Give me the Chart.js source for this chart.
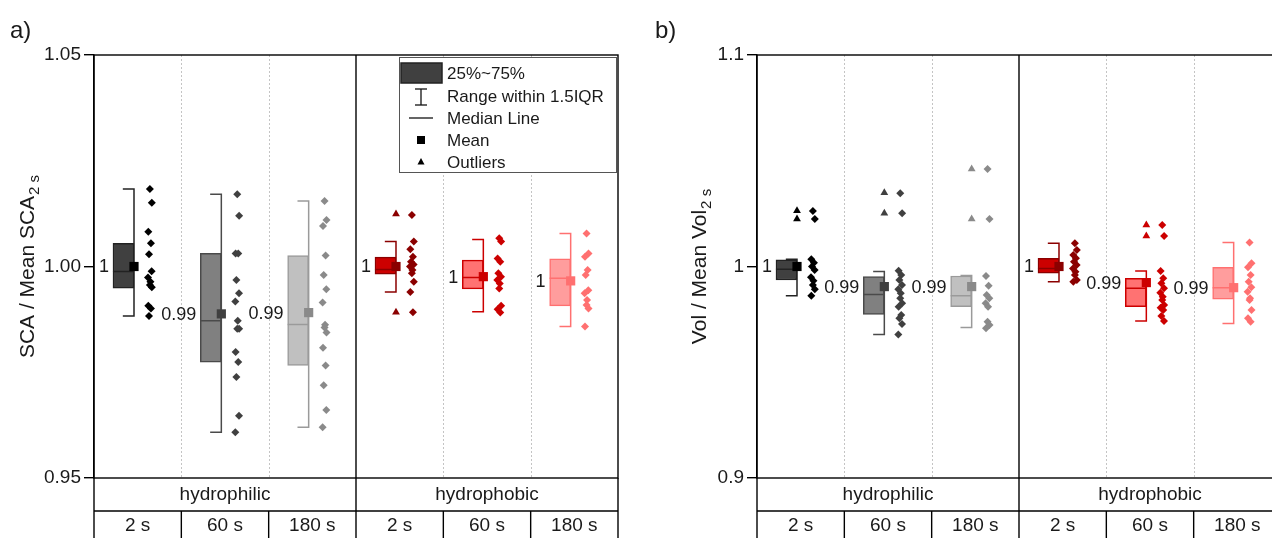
<!DOCTYPE html>
<html>
<head>
<meta charset="utf-8">
<script src="https://cdn.jsdelivr.net/npm/chart.js@4.4.0/dist/chart.umd.min.js"></script>
<style>
  html, body { margin: 0; padding: 0; background: #fff; overflow: hidden; width: 1272px; height: 538px; }
  #wrapA { position: absolute; left: 0; top: 0; }
  #wrapB { position: absolute; left: 640px; top: 0; }
</style>
</head>
<body>
<div id="wrapA"><canvas id="chartA" width="640" height="538"></canvas></div>
<div id="wrapB"><canvas id="chartB" width="660" height="538"></canvas></div>
<script>
// categories
const groups = ["hydrophilic", "hydrophobic"];
const times = ["2 s", "60 s", "180 s"];

// a) SCA / Mean SCA 2 s
const scaQ1 = [0.9949, 0.9774, 0.9766, 0.9982, 0.9947, 0.9907];
const scaQ3 = [1.0055, 1.0031, 1.0026, 1.0022, 1.0015, 1.0018];
const scaMedian = [0.9988, 0.9872, 0.9863, 0.9993, 0.9974, 0.9972];
const scaMean = [1.0000, 0.9888, 0.9891, 1.0000, 0.9976, 0.9966];
const scaLow = [0.9883, 0.9608, 0.9620, 0.9940, 0.9893, 0.9858];
const scaHigh = [1.0183, 1.0171, 1.0155, 1.0059, 1.0064, 1.0078];
const scaMeanLabels = ["1", "0.99", "0.99", "1", "1", "1"];
const scaPoints = [
  [1.0183, 1.0151, 1.0082, 1.0055, 1.0029, 0.9989, 0.9974, 0.9964, 0.9956, 0.9951, 0.9907, 0.9901, 0.9883],
  [1.0171, 1.0120, 1.0031, 1.0031, 0.9968, 0.9937, 0.9917, 0.9872, 0.9853, 0.9853, 0.9798, 0.9774, 0.9739, 0.9647, 0.9608],
  [1.0155, 1.0110, 1.0096, 1.0026, 0.9980, 0.9946, 0.9915, 0.9862, 0.9856, 0.9844, 0.9808, 0.9766, 0.9719, 0.9661, 0.9620],
  [1.0122, 1.0059, 1.0041, 1.0023, 1.0011, 1.0005, 1.0000, 0.9992, 0.9984, 0.9964, 0.9940, 0.9892],
  [1.0067, 1.0059, 1.0019, 1.0011, 0.9984, 0.9976, 0.9968, 0.9960, 0.9948, 0.9907, 0.9899, 0.9891],
  [1.0078, 1.0031, 1.0023, 0.9992, 0.9980, 0.9944, 0.9937, 0.9921, 0.9909, 0.9901, 0.9858]
];
const scaOutliers = [[], [], [], [1.0124, 0.9892], [], []];

// b) Vol / Mean Vol 2 s
const volQ1 = [0.9936, 0.9774, 0.9810, 0.9968, 0.9810, 0.9845];
const volQ3 = [1.0031, 0.9952, 0.9955, 1.0039, 0.9944, 0.9996];
const volMedian = [0.9987, 0.9868, 0.9862, 0.9991, 0.9897, 0.9900];
const volMean = [1.0000, 0.9905, 0.9905, 1.0000, 0.9924, 0.9900];
const volLow = [0.9862, 0.9679, 0.9711, 0.9928, 0.9742, 0.9731];
const volHigh = [1.0034, 0.9976, 0.9957, 1.0110, 0.9979, 1.0114];
const volMeanLabels = ["1", "0.99", "0.99", "1", "0.99", "0.99"];
const volPoints = [
  [1.0262, 1.0225, 1.0034, 1.0018, 1.0000, 0.9983, 0.9949, 0.9933, 0.9913, 0.9892, 0.9862],
  [1.0346, 1.0252, 0.9980, 0.9960, 0.9936, 0.9913, 0.9892, 0.9873, 0.9850, 0.9826, 0.9810, 0.9771, 0.9755, 0.9728, 0.9679],
  [1.0461, 1.0225, 0.9955, 0.9909, 0.9865, 0.9850, 0.9826, 0.9810, 0.9739, 0.9723, 0.9708],
  [1.0110, 1.0078, 1.0054, 1.0039, 1.0023, 1.0007, 0.9991, 0.9975, 0.9960, 0.9936, 0.9928],
  [1.0196, 1.0144, 0.9979, 0.9944, 0.9921, 0.9897, 0.9876, 0.9857, 0.9842, 0.9818, 0.9805, 0.9794, 0.9766, 0.9742],
  [1.0114, 1.0015, 0.9996, 0.9960, 0.9928, 0.9902, 0.9881, 0.9850, 0.9842, 0.9794, 0.9755, 0.9739]
];
const volOutliers = [[1.0264, 1.0225], [1.0349, 1.0252], [1.0461, 1.0225], [], [1.0196, 1.0144], []];

// styles
const FONT = "'Liberation Sans', Arial, sans-serif";
const boxFill = ["#404040", "#808080", "#c0c0c0", "#cc0000", "#ff7272", "#ff9d9d"];
const boxLine = ["#222222", "#4a4a4a", "#9a9a9a", "#8b0000", "#cc0000", "#ff7070"];
const dotColor = ["#000000", "#404040", "#8a8a8a", "#8b0000", "#cc0000", "#ff7070"];
const jitter = [0, 0.022, -0.018, 0.012, -0.01, 0.02, -0.022, 0.006];

// offsets inside a category (x units, 1 unit = one category column)
const BOX_L = -0.283, BOX_R = -0.042, CAP_L = -0.17, DOT_X = 0.14;

Chart.defaults.font.family = FONT;

function makeDatasets(q1, q3, med, mean, lo, hi, pts, outl) {
  const ds = [];
  ds.push({
    type: "bar",
    data: q1.map((v, i) => ({ x: i + 0.5 + (BOX_L + BOX_R) / 2, y: [v, q3[i]] })),
    backgroundColor: boxFill,
    borderColor: boxLine,
    borderWidth: 1.5,
    borderSkipped: false,
    barThickness: 21,
    order: 5
  });
  q1.forEach((v, i) => {
    const c = i + 0.5;
    ds.push({
      type: "line",
      data: [
        { x: c + CAP_L, y: hi[i] }, { x: c + BOX_R, y: hi[i] },
        { x: c + BOX_R, y: lo[i] }, { x: c + CAP_L, y: lo[i] },
        { x: c, y: null },
        { x: c + BOX_L, y: med[i] }, { x: c + BOX_R, y: med[i] }
      ],
      borderColor: boxLine[i],
      borderWidth: 1.5,
      pointRadius: 0,
      spanGaps: false,
      fill: false,
      order: 4
    });
  });
  ds.push({
    type: "line",
    showLine: false,
    data: pts.flatMap((arr, i) => arr.map((v, k) => ({ x: i + 0.5 + DOT_X + jitter[k % jitter.length], y: v }))),
    pointStyle: "rectRot",
    pointRadius: 4,
    pointBorderWidth: 0,
    pointBackgroundColor: (c) => dotColor[Math.floor(c.raw ? c.raw.x : 0)],
    order: 1
  });
  ds.push({
    type: "line",
    showLine: false,
    data: mean.map((v, i) => ({ x: i + 0.5 + BOX_R, y: v })),
    pointStyle: "rect",
    pointRadius: 6.5,
    pointBorderWidth: 0,
    pointBackgroundColor: dotColor,
    order: 0
  });
  ds.push({
    type: "line",
    showLine: false,
    data: outl.flatMap((arr, i) => arr.map((v) => ({ x: i + 0.5 + BOX_R, y: v }))),
    pointStyle: "triangle",
    pointRadius: 4.5,
    pointBorderWidth: 0,
    pointBackgroundColor: (c) => dotColor[Math.floor(c.raw ? c.raw.x : 0)],
    order: 1
  });
  return ds;
}

function line(ctx, x1, y1, x2, y2) {
  ctx.beginPath();
  ctx.moveTo(x1, y1);
  ctx.lineTo(x2, y2);
  ctx.stroke();
}

function panelPlugin(cfg) {
  return {
    id: "panel" + cfg.letter,
    beforeDatasetsDraw(chart) {
      const { ctx, chartArea: a, scales: { x } } = chart;
      ctx.save();
      ctx.strokeStyle = "#c4c4c4";
      ctx.lineWidth = 1;
      ctx.setLineDash([2, 2]);
      [1, 2, 4, 5].forEach((v) => {
        const px = Math.round(x.getPixelForValue(v)) + 0.5;
        line(ctx, px, a.top, px, a.bottom);
      });
      ctx.restore();
    },
    afterDatasetsDraw(chart) {
      const { ctx, scales: { x, y } } = chart;
      ctx.save();
      ctx.font = "18px " + FONT;
      ctx.fillStyle = "#1a1a1a";
      ctx.textAlign = "right";
      ctx.textBaseline = "middle";
      cfg.mean.forEach((v, i) => {
        ctx.fillText(cfg.labels[i], x.getPixelForValue(i + 0.5 + BOX_L) - 4, y.getPixelForValue(v) + 1);
      });
      ctx.restore();
    },
    afterDraw(chart) {
      const { ctx, chartArea: a, scales: { x } } = chart;
      const H = chart.height;
      const rowH = 33;
      ctx.save();
      ctx.strokeStyle = "#000";
      ctx.lineWidth = 1.4;
      // frame
      ctx.strokeRect(a.left, a.top, a.right - a.left, a.bottom - a.top);
      const mid = x.getPixelForValue(3);
      line(ctx, mid, a.top, mid, H);
      line(ctx, a.left, a.bottom, a.left, H);
      line(ctx, a.right, a.bottom, a.right, H);
      line(ctx, a.left, a.bottom + rowH, a.right, a.bottom + rowH);
      [1, 2, 4, 5].forEach((v) => {
        const px = x.getPixelForValue(v);
        line(ctx, px, a.bottom + rowH, px, H);
      });
      ctx.fillStyle = "#1a1a1a";
      ctx.textAlign = "center";
      ctx.textBaseline = "middle";
      ctx.font = "19px " + FONT;
      groups.forEach((g, i) => ctx.fillText(g, x.getPixelForValue(i * 3 + 1.5), a.bottom + 17));
      for (let i = 0; i < 6; i++) {
        ctx.fillText(times[i % 3], x.getPixelForValue(i + 0.5), a.bottom + rowH + 15);
      }
      // panel letter
      ctx.textAlign = "left";
      ctx.textBaseline = "alphabetic";
      ctx.font = "24px " + FONT;
      ctx.fillText(cfg.letter + ")", cfg.letterX, 38);
      // y title with subscript
      ctx.translate(cfg.titleX, (a.top + a.bottom) / 2);
      ctx.rotate(-Math.PI / 2);
      ctx.font = "21px " + FONT;
      const w1 = ctx.measureText(cfg.title).width;
      ctx.font = "15px " + FONT;
      const w2 = ctx.measureText("2 s").width;
      const x0 = -(w1 + w2 + 1) / 2;
      ctx.textBaseline = "middle";
      ctx.font = "21px " + FONT;
      ctx.fillText(cfg.title, x0, 0);
      ctx.font = "15px " + FONT;
      ctx.fillText("2 s", x0 + w1 + 1, 7);
      ctx.restore();
      if (cfg.legend) drawLegend(ctx);
    }
  };
}

function drawLegend(ctx) {
  ctx.save();
  ctx.strokeStyle = "#555";
  ctx.lineWidth = 1;
  ctx.fillStyle = "#fff";
  ctx.fillRect(399.5, 57.5, 217, 115);
  ctx.strokeRect(399.5, 57.5, 217, 115);
  const cx = 421;
  ctx.fillStyle = boxFill[0];
  ctx.fillRect(401, 63, 41, 20);
  ctx.strokeStyle = boxLine[0];
  ctx.lineWidth = 1.5;
  ctx.strokeRect(401, 63, 41, 20);
  ctx.strokeStyle = "#111";
  ctx.lineWidth = 1.3;
  line(ctx, cx, 89, cx, 105);
  line(ctx, cx - 6, 89, cx + 6, 89);
  line(ctx, cx - 6, 105, cx + 6, 105);
  line(ctx, cx - 12, 118, cx + 12, 118);
  ctx.fillStyle = "#000";
  ctx.fillRect(cx - 4, 136, 8, 8);
  ctx.beginPath();
  ctx.moveTo(cx, 158);
  ctx.lineTo(cx + 3.5, 164.5);
  ctx.lineTo(cx - 3.5, 164.5);
  ctx.closePath();
  ctx.fill();
  ctx.fillStyle = "#1a1a1a";
  ctx.font = "17px " + FONT;
  ctx.textBaseline = "middle";
  ctx.textAlign = "left";
  ["25%~75%", "Range within 1.5IQR", "Median Line", "Mean", "Outliers"].forEach((t, i) => {
    ctx.fillText(t, 447, [74, 97, 119, 141, 163][i]);
  });
  ctx.restore();
}

function makeChart(id, ds, yMin, yMax, step, fmt, axisW, padRight, plugin) {
  return new Chart(document.getElementById(id), {
    type: "bar",
    data: { datasets: ds },
    options: {
      responsive: false,
      animation: false,
      layout: { padding: { top: 55, right: padRight, bottom: 60, left: 0 } },
      plugins: { legend: { display: false }, tooltip: { enabled: false } },
      scales: {
        x: { type: "linear", min: 0, max: 6, offset: false, display: false },
        y: {
          type: "linear",
          min: yMin,
          max: yMax,
          afterFit: (s) => { s.width = axisW; },
          border: { display: true, color: "#000", width: 1.4 },
          grid: { drawOnChartArea: false, drawTicks: true, tickLength: 10, color: "#000", lineWidth: 1.4 },
          ticks: { stepSize: step, color: "#1a1a1a", padding: 3, font: { size: 19 }, callback: fmt }
        }
      }
    },
    plugins: [plugin]
  });
}

makeChart("chartA",
  makeDatasets(scaQ1, scaQ3, scaMedian, scaMean, scaLow, scaHigh, scaPoints, scaOutliers),
  0.95, 1.05, 0.05, (v) => (+v).toFixed(2), 94, 22,
  panelPlugin({ letter: "a", letterX: 10, titleX: 28, title: "SCA / Mean SCA", mean: scaMean, labels: scaMeanLabels, legend: true }));

makeChart("chartB",
  makeDatasets(volQ1, volQ3, volMedian, volMean, volLow, volHigh, volPoints, volOutliers),
  0.9, 1.1, 0.1, (v) => String(Math.round(v * 10) / 10), 117, 19,
  panelPlugin({ letter: "b", letterX: 15, titleX: 60, title: "Vol / Mean Vol", mean: volMean, labels: volMeanLabels, legend: false }));
</script>
</body>
</html>
